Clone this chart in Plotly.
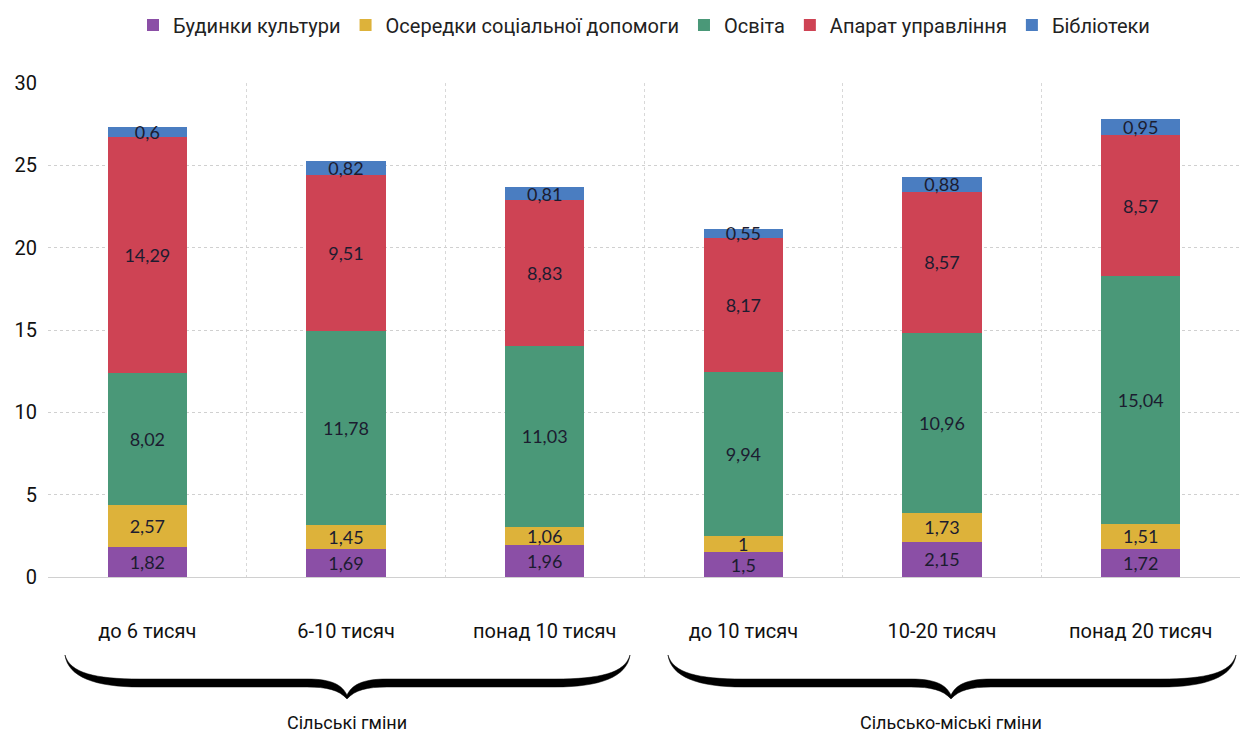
import plotly.graph_objects as go

categories = ["до 6 тисяч", "6-10 тисяч", "понад 10 тисяч", "до 10 тисяч", "10-20 тисяч", "понад 20 тисяч"]
series_names = ["Будинки культури", "Осередки соціальної допомоги", "Освіта", "Апарат управління", "Бібліотеки"]
budynky = [1.82, 1.69, 1.96, 1.5, 2.15, 1.72]
oseredky = [2.57, 1.45, 1.06, 1, 1.73, 1.51]
osvita = [8.02, 11.78, 11.03, 9.94, 10.96, 15.04]
aparat = [14.29, 9.51, 8.83, 8.17, 8.57, 8.57]
biblioteky = [0.6, 0.82, 0.81, 0.55, 0.88, 0.95]
group_labels = ["Сільські гміни", "Сільсько-міські гміни"]
y_ticks = [0, 5, 10, 15, 20, 25, 30]

colors = ["#8B4FA6", "#DDB23A", "#4A9878", "#CE4354", "#4A7DC1"]
series = [budynky, oseredky, osvita, aparat, biblioteky]

COND = "Roboto, Liberation Sans, sans-serif"
LABF = "Lato, Open Sans, sans-serif"

def fmt(v):
    return ("%g" % v).replace(".", ",")

fig = go.Figure()
for name, vals, col in zip(series_names, series, colors):
    fig.add_trace(go.Bar(
        x=categories, y=vals, name=name, marker=dict(color=col, line=dict(width=0)),
        text=[fmt(v) for v in vals], textposition="inside", insidetextanchor="middle",
        textangle=0,
        textfont=dict(family=LABF, size=18, color="#1c1c30"),
        constraintext="none", cliponaxis=False,
    ))

W, H = 1242, 734
L, R, T, B = 48, 2, 83, 157
pw, ph = W - L - R, H - T - B

def px(x, y):
    return ((x - L) / pw, (H - B - y) / ph)

def brace(x0, x1, xc, ytop, yb, tip, th):
    def P(x, y):
        a, b = px(x, y)
        return f"{a:.5f},{b:.5f}"
    y1 = yb
    y2 = yb + th
    d = (f"M {P(x0, ytop)} C {P(x0+5, y1-6)} {P(x0+30, y1)} {P(x0+75, y1)} "
         f"L {P(xc-40, y1)} C {P(xc-15, y1)} {P(xc-5, y1+6)} {P(xc, tip-4)} "
         f"C {P(xc+5, y1+6)} {P(xc+15, y1)} {P(xc+40, y1)} "
         f"L {P(x1-75, y1)} C {P(x1-30, y1)} {P(x1-5, y1-6)} {P(x1, ytop)} "
         f"C {P(x1-3, y2-10)} {P(x1-30, y2)} {P(x1-75, y2)} "
         f"L {P(xc+40, y2)} C {P(xc+20, y2)} {P(xc+8, y2+3)} {P(xc, tip)} "
         f"C {P(xc-8, y2+3)} {P(xc-20, y2)} {P(xc-40, y2)} "
         f"L {P(x0+75, y2)} C {P(x0+30, y2)} {P(x0+3, y2-10)} {P(x0, ytop)} Z")
    return d

shapes = []
for (x0, x1, xc) in [(65, 630, 347), (668, 1236, 951)]:
    shapes.append(dict(type="path", xref="paper", yref="paper",
                       path=brace(x0, x1, xc, 655, 679, 699, 8),
                       fillcolor="black", line=dict(width=0.5, color="black")))

annotations = []
for lab, xc in zip(group_labels, [347, 951]):
    a, b = px(xc, 722)
    annotations.append(dict(text=lab, x=a, y=b, xref="paper", yref="paper",
                            showarrow=False, xanchor="center", yanchor="middle",
                            font=dict(family=COND, size=18, color="#111")))

fig.update_layout(
    barmode="stack", bargap=0.6,
    width=W, height=H,
    margin=dict(l=L, r=R, t=T, b=B),
    plot_bgcolor="white", paper_bgcolor="white",
    legend=dict(orientation="h", x=0.5, xanchor="center", yref="container", y=0.966,
                yanchor="middle", font=dict(family=COND, size=20, color="#222"),
                itemwidth=30, itemsizing="constant", traceorder="normal"),
    uniformtext=dict(minsize=18, mode="show"),
    shapes=shapes, annotations=annotations,
    xaxis=dict(tickson="boundaries", showgrid=True, griddash="dot", gridcolor="#d8d8d8",
               gridwidth=1, ticks="", showline=False, ticklabelstandoff=40,
               tickfont=dict(family=COND, size=20, color="#111"), range=[-0.5, 5.5]),
    yaxis=dict(range=[0, 30], tickvals=y_ticks, showgrid=True, griddash="dot",
               gridcolor="#d0d0d0", gridwidth=1, zeroline=True, zerolinecolor="#d0d0d0",
               zerolinewidth=1, ticks="", ticklabelstandoff=10,
               tickfont=dict(family=COND, size=20, color="#111")),
)

fig.write_html("out.html")
